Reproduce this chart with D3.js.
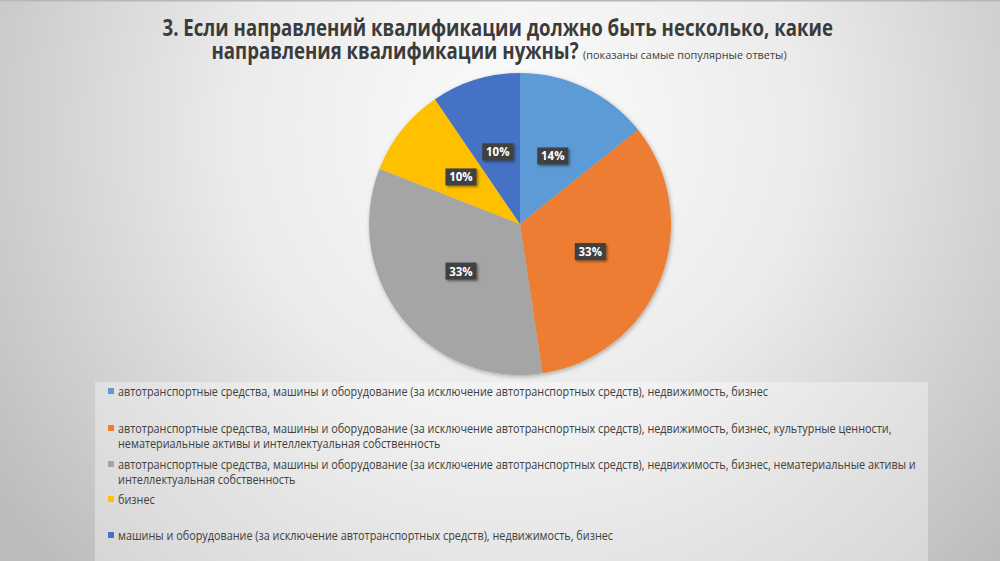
<!DOCTYPE html>
<html><head><meta charset="utf-8">
<script src="https://cdn.jsdelivr.net/npm/d3@7"></script>
<style>html,body{margin:0;padding:0;overflow:hidden;background:#fff}</style>
</head><body>
<svg id="chart" width="1000" height="561"></svg>
<script>
const titleLines = ["3. Если направлений квалификации должно быть несколько, какие", "направления квалификации нужны?"];
const subtitle = "(показаны самые популярные ответы)";
const categories = [
  "автотранспортные средства, машины и оборудование (за исключение автотранспортных средств), недвижимость, бизнес",
  "автотранспортные средства, машины и оборудование (за исключение автотранспортных средств), недвижимость, бизнес, культурные ценности, нематериальные активы и интеллектуальная собственность",
  "автотранспортные средства, машины и оборудование (за исключение автотранспортных средств), недвижимость, бизнес, нематериальные активы и интеллектуальная собственность",
  "бизнес",
  "машины и оборудование (за исключение автотранспортных средств), недвижимость, бизнес"
];
const legendLines = [
  ["автотранспортные средства, машины и оборудование (за исключение автотранспортных средств), недвижимость, бизнес"],
  ["автотранспортные средства, машины и оборудование (за исключение автотранспортных средств), недвижимость, бизнес, культурные ценности,", "нематериальные активы и интеллектуальная собственность"],
  ["автотранспортные средства, машины и оборудование (за исключение автотранспортных средств), недвижимость, бизнес, нематериальные активы и", "интеллектуальная собственность"],
  ["бизнес"],
  ["машины и оборудование (за исключение автотранспортных средств), недвижимость, бизнес"]
];
const counts = [3, 7, 7, 2, 2];
const colors = ["#5B9BD5", "#ED7D31", "#A5A5A5", "#FFC000", "#4472C4"];

const svg = d3.select("#chart");
const W = 1000, H = 561;
const defs = svg.append("defs");
const bg = defs.append("radialGradient").attr("id", "bg")
  .attr("gradientUnits", "userSpaceOnUse").attr("cx", 520).attr("cy", 130).attr("r", 640);
bg.append("stop").attr("offset", "0").attr("stop-color", "#fcfcfc");
bg.append("stop").attr("offset", "0.45").attr("stop-color", "#ebebeb");
bg.append("stop").attr("offset", "1").attr("stop-color", "#bcbcbc");
const sh = defs.append("filter").attr("id", "sh").attr("x", "-20%").attr("y", "-20%").attr("width", "140%").attr("height", "140%");
sh.append("feDropShadow").attr("dx", 1).attr("dy", 1.5).attr("stdDeviation", 2).attr("flood-color", "#000").attr("flood-opacity", 0.3);
const sh2 = defs.append("filter").attr("id", "sh2").attr("x", "-30%").attr("y", "-30%").attr("width", "160%").attr("height", "160%");
sh2.append("feDropShadow").attr("dx", 1.5).attr("dy", 1.5).attr("stdDeviation", 1).attr("flood-color", "#000").attr("flood-opacity", 0.45);

svg.append("rect").attr("width", W).attr("height", H).attr("fill", "url(#bg)");
svg.append("rect").attr("width", W).attr("height", 1.5).attr("fill", "#b8b8b8");

const fontT = "Open Sans, Noto Sans, sans-serif";
function condensed(parent, txt, x0, y, size, weight, target, color, fixedScale) {
  const g = parent.append("g");
  const t = g.append("text").attr("x", 0).attr("y", 0)
    .attr("font-family", fontT).attr("font-weight", weight).attr("font-size", size)
    .attr("fill", color).text(txt);
  const len = t.node().getComputedTextLength();
  const sx = fixedScale || target / len;
  g.attr("transform", `translate(${x0},${y}) scale(${sx},1)`);
  return sx;
}

// Title: one text element, two lines, condensed horizontally
const tg = svg.append("g");
const tt = tg.append("text").attr("font-family", fontT).attr("font-weight", "bold")
  .attr("font-size", 24).attr("fill", "#3b3b3b");
const s1 = tt.append("tspan").attr("x", 0).attr("y", 0).text(titleLines[0]);
const sxT = 671 / s1.node().getComputedTextLength();
tt.append("tspan").attr("x", (211.5 - 162.5) / sxT).attr("y", 23).text(titleLines[1]);
tg.attr("transform", `translate(162.5,35.5) scale(${sxT},1)`);
condensed(svg, subtitle, 583, 58.5, 11, "normal", 204, "#404040");

// Pie
const cx = 520, cy = 224, R = 151;
const pie = d3.pie().sort(null).value(d => d);
const arcs = pie(counts);
const arc = d3.arc().innerRadius(0).outerRadius(R);
const labelArc = d3.arc().innerRadius(R * 0.5).outerRadius(R * 0.5);
const g = svg.append("g").attr("transform", `translate(${cx},${cy})`);
g.append("g").attr("filter", "url(#sh)").selectAll("path").data(arcs).join("path")
  .attr("d", arc).attr("fill", (d, i) => colors[i]);
const total = d3.sum(counts);
const lab = g.selectAll("g.lab").data(arcs).join("g").attr("class", "lab")
  .attr("transform", d => `translate(${labelArc.centroid(d)})`);
lab.append("rect").attr("x", -15.5).attr("y", -8.5).attr("width", 31).attr("height", 17)
  .attr("fill", "#404040").attr("filter", "url(#sh2)");
lab.append("text").attr("text-anchor", "middle").attr("dy", "0.36em")
  .attr("font-family", fontT).attr("font-weight", "bold").attr("font-size", 12.5).attr("fill", "#fff")
  .attr("transform", "scale(0.92,1)")
  .text(d => Math.round(d.data / total * 100) + "%");

// Legend
svg.append("rect").attr("x", 95).attr("y", 382).attr("width", 833).attr("height", 179)
  .attr("fill", "#ffffff").attr("opacity", 0.35);
const legTop = [392, 429, 465, 500, 536];
const lg = svg.append("g");
const sxL = condensed(lg, legendLines[0][0], 118, 0, 12, "normal", 651, "none");
lg.selectAll("g").remove();
legendLines.forEach((lines, i) => {
  lg.append("rect").attr("x", 108).attr("y", legTop[i] - 4).attr("width", 6).attr("height", 6).attr("fill", colors[i]);
  lines.forEach((ln, j) => {
    condensed(lg, ln, 118, legTop[i] + 4 + j * 14.5, 12, "normal", null, "#404040", sxL);
  });
});
</script>
</body></html>
